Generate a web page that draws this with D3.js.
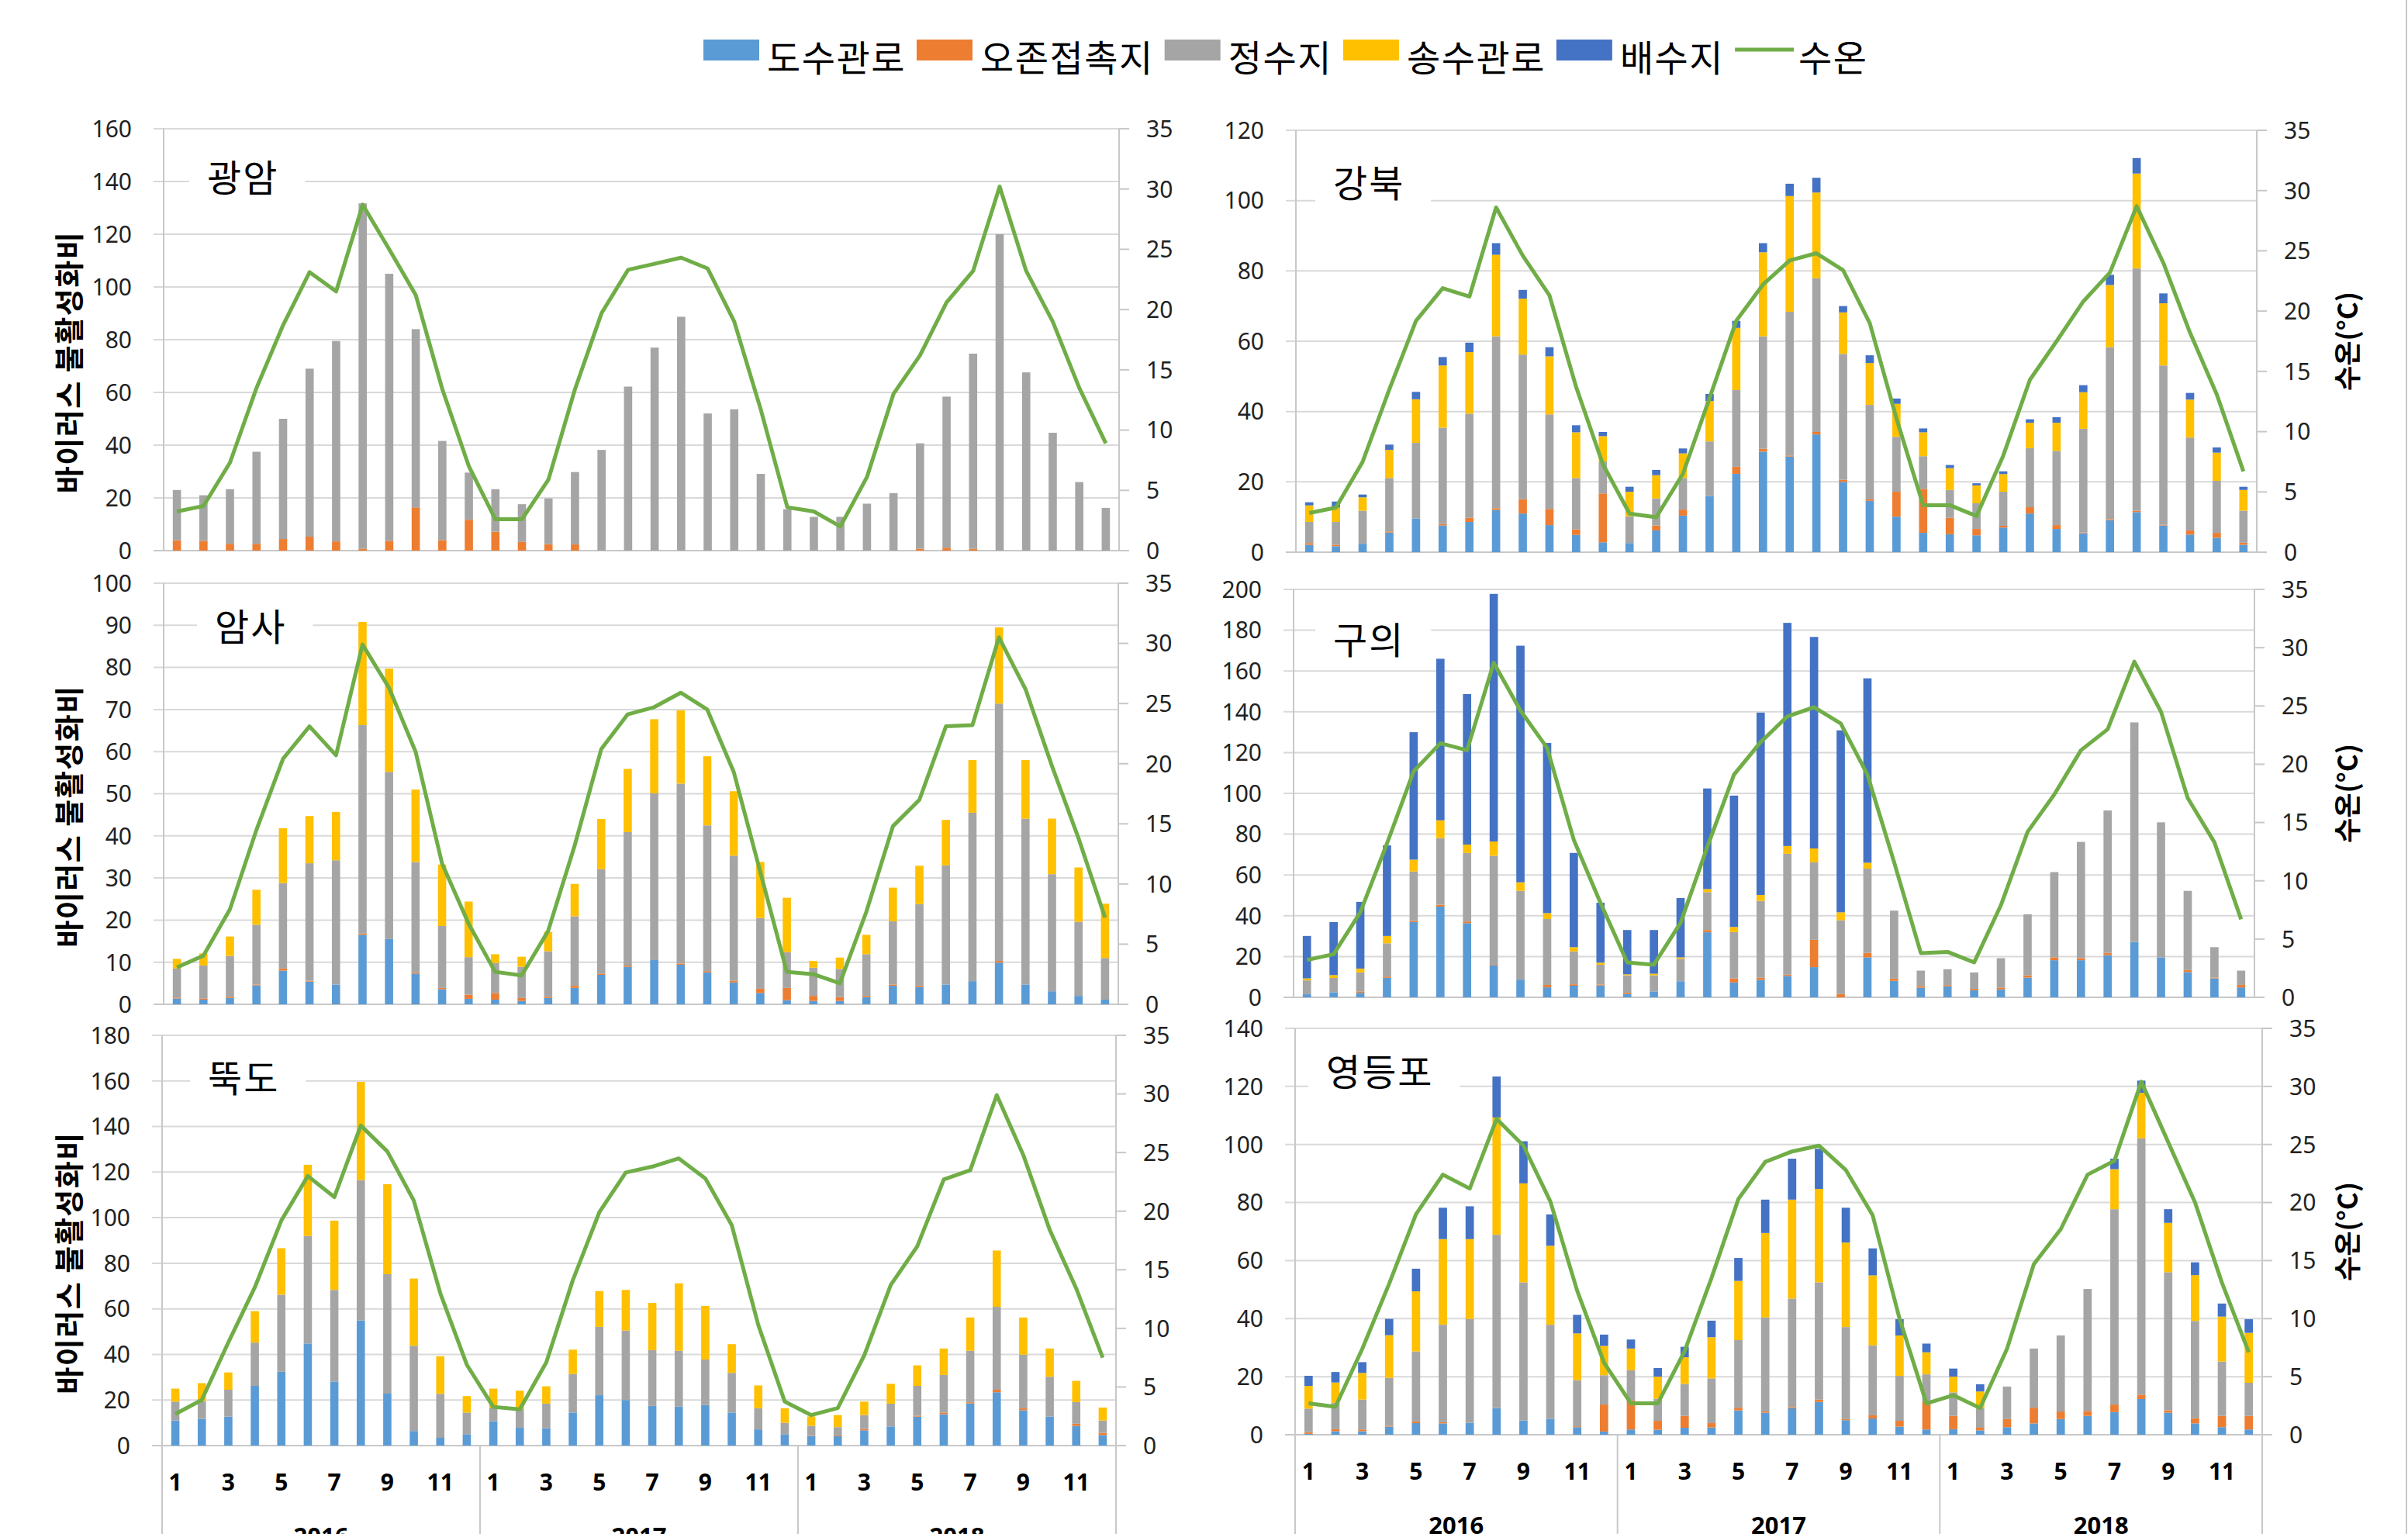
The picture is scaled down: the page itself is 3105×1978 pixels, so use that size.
<!DOCTYPE html>
<html>
<head>
<meta charset="utf-8">
<script src="https://cdnjs.cloudflare.com/ajax/libs/d3/7.8.5/d3.min.js"></script>
<style>
  body { margin: 0; background: #fff; }
  svg text { font-family: "Noto Sans", "Noto Sans CJK KR", sans-serif; fill: #222; }
  .kr { font-family: "Noto Sans CJK KR", sans-serif; }
</style>
</head>
<body>
<svg width="3105" height="1978"></svg>
<script>
// categories
const monthLabels = ["1","2","3","4","5","6","7","8","9","10","11","12"];
const yearLabels = ["2016","2017","2018"];
const seriesNames = ["도수관로","오존접촉지","정수지","송수관로","배수지"];
const tempName = "수온";

// 광암
const gwangamOzone = [3.9,3.7,2.6,2.6,4.4,5.3,3.5,0.7,3.7,16.4,4,11.7,7.2,3.3,2.5,2.4,0,0,0,0,0,0,0,0,0,0,0,0,0.7,1.1,0.7,0,0,0,0,0];
const gwangamJeongsu = [19.1,17.3,20.7,34.9,45.6,63.7,76,131,101.3,67.6,37.6,17.9,16.1,14.3,17.3,27.4,38.2,62.2,77,88.7,52,53.6,29.1,15.7,12.8,12.8,17.8,21.8,40,57.3,74,120,67.6,44.7,26,16.2];
const gwangamTemp = [3.25,3.7,7.3,13.5,18.7,23.1,21.5,28.7,25,21.2,13.4,7,2.6,2.6,5.9,13.4,19.7,23.3,23.8,24.3,23.4,19,11.7,3.6,3.25,2,6.1,13,16.2,20.6,23.2,30.2,23.2,19,13.5,8.9];

// 강북
const gangbukDosu = [2.1,1.7,2.4,5.6,9.6,7.6,8.6,12,11,7.7,4.9,2.8,2.6,6.2,10.4,16,22.3,28.6,27.2,33.5,20,14.6,10.1,5.5,5.1,4.8,7,11,6.6,5.4,9.1,11.4,7.6,5,4.1,2.1];
const gangbukOzone = [0.5,0.4,0,0.3,0,0.4,1.2,0.5,4.1,4.6,1.6,13.9,0,1.4,1.7,0,2,0.8,0.3,0.7,0.6,0.4,7.1,12.5,4.7,1.8,0.5,1.8,1.1,0.2,0.3,0.4,0.2,1.2,1.4,0.6];
const gangbukJeongsu = [6,6.5,9.4,15.2,21.5,27.4,29.6,48.9,41.1,26.9,14.6,9.1,7.6,7.7,9,15.5,21.8,32,40.9,43.7,35.8,26.9,15.6,9.3,7.9,7.3,9.7,16.8,21.1,29.5,48.9,68.9,45.3,26.4,14.8,9.1];
const gangbukSongsu = [4.7,4.1,3.8,8,12.4,17.7,17.5,23.2,15.9,16.5,13,7.2,7,6.6,7,11.5,17.7,23.9,32.9,24.4,11.8,11.9,9.4,6.8,6.2,5.1,5,7.2,8,10.4,17.7,27,17.7,10.8,8,5.9];
const gangbukBaesu = [0.9,1.7,0.8,1.5,2.1,2.4,2.7,3.3,2.5,2.6,2,1.2,1.4,1.5,1.4,2,2,2.6,3.5,4.2,1.8,2.2,1.5,1.1,0.9,0.6,0.8,1,1.6,2,2.9,4.4,2.8,1.9,1.5,0.9];
const gangbukTemp = [3.25,3.7,7.5,13.5,19.2,21.9,21.2,28.6,24.6,21.3,13.7,7.3,3.2,2.9,6.5,12.8,19.2,22.2,24.2,24.8,23.4,19,11.1,3.9,3.9,3,8,14.3,17.5,20.8,23.2,28.7,24,18.2,13.1,6.7];

// 암사
const amsaDosu = [1.4,1.1,1.5,4.5,8,5.4,4.7,16.5,15.5,7.3,3.6,1.3,1.1,0.8,1.5,3.9,7,8.9,10.5,9.4,7.6,5.2,2.7,1,0.8,0.8,1.7,4.4,4.1,4.7,5.5,9.9,4.7,3.1,2,1.1];
const amsaOzone = [0.2,0.3,0.3,0.2,0.5,0.2,0,0.3,0,0.3,0.3,1,1.6,0.7,0.3,0.5,0.3,0.3,0,0.3,0.3,0.4,1,2.9,1.2,0.9,0.3,0.3,0.3,0,0,0.4,0,0,0,0];
const amsaJeongsu = [6.9,7.8,9.7,14.2,20.3,27.9,29.5,49.5,39.7,26.2,14.7,8.9,7.1,7.4,10.8,16.5,24.8,31.7,39.6,42.7,34.6,29.7,16.8,8.5,6.7,6.7,9.9,15,19.4,28.3,40,61.1,39.4,27.8,17.6,9.9];
const amsaSongsu = [2.3,2.9,4.6,8.3,13,11.2,11.5,24.5,24.5,17.2,14.6,13.2,2.1,2.4,4.6,7.7,11.9,15,17.6,17.4,16.4,15.3,13.3,12.9,1.6,2.7,4.6,8,9.1,10.8,12.5,18.1,13.9,13.2,12.9,12.9];
const amsaTemp = [3.06,4.05,7.9,14.5,20.4,23.1,20.7,29.9,26.3,21,11.7,6.7,2.7,2.4,6.1,13.2,21.2,24.1,24.7,25.9,24.5,19.3,11,2.7,2.5,1.75,7.7,14.8,17,23.1,23.2,30.5,26.2,19.8,13.8,7.2];

// 구의
const guuiDosu = [1.5,2.5,2.2,9.6,36.9,44.5,36.4,15.6,8.7,4.9,5.7,5.8,1.7,2.9,7.9,31.9,7.3,8.6,10.5,14.8,0,19.6,8.1,4.7,5.4,3.5,3.9,9.7,18.2,18.2,20.7,27.2,19.5,12.4,9.3,4.9];
const guuiOzone = [0,0,0.7,0.6,0.6,0.9,0.8,0.3,0,1.2,0.7,0.5,0.6,0,0,1.1,2,1,0.6,13.4,1.6,2.2,1.1,0.8,0.6,0.7,0.9,1.1,1.4,1,1.1,0,0,1,0.4,1.2];
const guuiJeongsu = [6.8,7,9.3,16.3,24.2,32.7,33.6,53.5,43.5,32.3,16.1,9.7,8.5,7.9,11,18.6,22.7,37.7,59.3,38,36.2,41.3,33.3,7.6,7.8,8,14.4,29.9,41.8,57,69.8,107.6,66.3,38.8,14.9,7];
const guuiSongsu = [1,1.4,1.9,3.6,5.8,8.7,4.1,7,4.2,2.9,2.1,1,0.5,0.8,0.7,1.5,2.5,2.9,3.8,6.8,3.9,2.9,0,0,0,0,0,0,0,0,0,0,0,0,0,0];
const guuiBaesu = [20.8,26,32.7,44.4,62.5,79.2,73.8,121.4,116,83.4,46.2,29.4,21.7,21.4,29.1,49.3,64.4,89.4,109.4,103.7,89.2,90.4,0,0,0,0,0,0,0,0,0,0,0,0,0,0];
const guuiTemp = [3.2,3.7,7.3,13.2,19.4,21.8,21.2,28.7,24.6,21.4,13.5,8.1,3,2.8,6.4,12.9,19.1,21.9,24.1,24.9,23.5,19.1,11.6,3.8,3.9,3,7.9,14.2,17.4,21.2,23,28.8,24.5,17.1,13.3,6.7];

// 뚝도
const ttukdoDosu = [11,11.7,12.7,26.2,32.4,44.8,28.1,54.9,22.8,6.4,3.4,5,10.7,7.8,7.6,14.5,22.1,20,17.4,17.1,17.8,14.5,7.1,5,4.3,4.1,6.7,8.4,12.7,13.8,18.5,23.4,15.5,12.7,8.6,4.6];
const ttukdoOzone = [0,0,0,0,0,0,0,0,0,0,0,0,0,0,0,0,0,0,0,0,0,0,0,0,0.3,0.3,0.6,0,0.4,0.7,0.5,1.1,0.8,0,1,1];
const ttukdoJeongsu = [8.3,7.8,11.8,19,33.8,47.2,40.2,61.6,52.4,37.4,19.3,9.5,6,8.2,10.8,16.9,30,30.5,24.5,24.5,20,17.4,9.3,5,4.1,3.7,6.1,10,13.1,16.5,22.6,36.4,23.6,17.5,9.5,5.4];
const ttukdoSongsu = [5.7,7.9,7.6,13.8,20.4,31.2,30.4,43.1,39.5,29.5,16.5,7.2,8.3,8.1,7.6,10.7,15.7,17.8,20.7,29.6,23.5,12.6,10,6.4,4.1,5.3,5.9,8.7,9,11.6,14.6,24.7,16.3,12.4,9.3,5.7];
const ttukdoTemp = [2.7,3.9,8.8,13.5,19.2,23,21.2,27.3,25.1,20.9,13,6.9,3.3,3.1,7.1,14.1,19.9,23.3,23.8,24.5,22.8,18.8,10.3,3.75,2.6,3.2,7.7,13.7,17,22.7,23.5,29.9,24.8,18.4,13.4,7.5];

// 영등포
const ydpDosu = [0.3,1.2,1.2,2.8,4,3.9,4.1,9.2,4.9,5.5,2.6,1.1,1.8,1.7,2.4,2.5,8.4,7.6,9.1,11.3,5,5.6,2.8,1.8,1.9,1.5,2.6,3.9,5.4,6.5,7.8,12.3,7.6,3.9,2.6,1.8];
const ydpOzone = [0.6,0.7,0.6,0.3,0.6,0.4,0,0,0,0,0.3,9.3,10,3.1,4.1,1.5,0.9,0.4,0.4,0.8,0.4,1.1,2,9.7,4.6,0.9,2.8,5.4,2.6,1.7,2.6,1.5,0.8,1.8,3.9,4.7];
const ydpJeongsu = [8.1,9.1,10.3,16.5,24.1,33.6,35.8,59.7,47.6,32.4,15.9,10.1,10.4,7.6,11,15.4,23.3,32.4,37.4,40.4,31.7,24.1,15.5,9.3,8.1,6.9,11.2,20.4,26.2,42,67.3,88.3,47.6,33.5,18.7,11.4];
const ydpSongsu = [7.8,7,9.2,14.7,20.7,29.5,27.5,40.4,34.1,27.2,16.1,10.1,7.5,7.6,9.2,14.2,20.4,29.1,34.1,32.2,29.1,24.1,13.9,7.6,5.4,5.6,0,0,0,0,13.8,15.7,17,15.8,15.5,17.2];
const ydpBaesu = [3.5,3.6,3.7,5.6,7.8,10.8,11.3,14.1,14.5,10.8,6.4,3.9,3.1,3,3.6,5.7,7.9,11.5,14.1,13.8,12,9.3,5.6,3,2.8,2.5,0,0,0,0,3.6,4.2,4.7,4.4,4.5,4.7];
const ydpTemp = [2.7,2.4,7.4,13,19,22.4,21.2,27.2,24.9,20.1,12.4,6.2,2.7,2.7,7.2,13.5,20.3,23.5,24.4,24.9,22.8,18.9,10,2.7,3.4,2.3,7.4,14.7,17.7,22.4,23.6,30.4,25.2,20,13.1,7.1];

const seriesColors = ["#5B9BD5","#ED7D31","#A5A5A5","#FFC000","#4472C4"];
const tempColor = "#70AD47";
const gridColor = "#D9D9D9";
const axisColor = "#C8C8C8";

const panels = [
  {title:"광암", series:[null, gwangamOzone, gwangamJeongsu, null, null], temp:gwangamTemp, yMax:160, yStep:20,
   x0:211, x1:1443, yTop:166, yZero:710, tx:267, ty:247, left:true, bottom:false},
  {title:"강북", series:[gangbukDosu, gangbukOzone, gangbukJeongsu, gangbukSongsu, gangbukBaesu], temp:gangbukTemp, yMax:120, yStep:20,
   x0:1671, x1:2910, yTop:168, yZero:712, tx:1719, ty:254, left:false, bottom:false},
  {title:"암사", series:[amsaDosu, amsaOzone, amsaJeongsu, amsaSongsu, null], temp:amsaTemp, yMax:100, yStep:10,
   x0:211, x1:1442, yTop:752, yZero:1295, tx:277, ty:826, left:true, bottom:false},
  {title:"구의", series:[guuiDosu, guuiOzone, guuiJeongsu, guuiSongsu, guuiBaesu], temp:guuiTemp, yMax:200, yStep:20,
   x0:1668, x1:2907, yTop:760, yZero:1286, tx:1719, ty:843, left:false, bottom:false},
  {title:"뚝도", series:[ttukdoDosu, ttukdoOzone, ttukdoJeongsu, ttukdoSongsu, null], temp:ttukdoTemp, yMax:180, yStep:20,
   x0:209, x1:1439, yTop:1335, yZero:1864, tx:268, ty:1408, left:true, bottom:true},
  {title:"영등포", series:[ydpDosu, ydpOzone, ydpJeongsu, ydpSongsu, ydpBaesu], temp:ydpTemp, yMax:140, yStep:20,
   x0:1670, x1:2917, yTop:1326, yZero:1850, tx:1710, ty:1400, left:false, bottom:true}
];

const svg = d3.select("svg");
const keys = ["s0","s1","s2","s3","s4"];
const categories = d3.range(36);

panels.forEach(p => {
  const g = svg.append("g");
  const x = d3.scaleBand().domain(categories).range([p.x0, p.x1]).paddingInner(0.69).paddingOuter(0.345);
  const y = d3.scaleLinear().domain([0, p.yMax]).range([p.yZero, p.yTop]);
  const yr = d3.scaleLinear().domain([0, 35]).range([p.yZero, p.yTop]);
  const leftTicks = d3.range(0, p.yMax + 0.001, p.yStep);
  const rightTicks = d3.range(0, 35.001, 5);

  // grid + left ticks
  g.append("g").selectAll("line").data(leftTicks).join("line")
    .attr("x1", p.x0 - 13).attr("x2", p.x1)
    .attr("y1", d => y(d)).attr("y2", d => y(d))
    .attr("stroke", d => d === 0 ? axisColor : gridColor).attr("stroke-width", 2);

  // axis lines
  g.append("line").attr("x1", p.x0).attr("x2", p.x0)
    .attr("y1", p.yTop).attr("y2", p.bottom ? 1978 : p.yZero)
    .attr("stroke", axisColor).attr("stroke-width", 2);
  g.append("line").attr("x1", p.x1).attr("x2", p.x1)
    .attr("y1", p.yTop).attr("y2", p.bottom ? 1978 : p.yZero)
    .attr("stroke", axisColor).attr("stroke-width", 2);
  g.append("g").selectAll("line").data(rightTicks).join("line")
    .attr("x1", p.x1).attr("x2", p.x1 + 13)
    .attr("y1", d => yr(d)).attr("y2", d => yr(d))
    .attr("stroke", axisColor).attr("stroke-width", 2);

  // tick labels
  g.append("g").selectAll("text").data(leftTicks).join("text")
    .attr("x", p.x0 - 41).attr("y", d => y(d)).attr("dy", "0.36em")
    .attr("text-anchor", "end").style("font-size", "30px").text(d => d);
  g.append("g").selectAll("text").data(rightTicks).join("text")
    .attr("x", p.x1 + 35).attr("y", d => yr(d)).attr("dy", "0.36em")
    .attr("text-anchor", "start").style("font-size", "30px").text(d => d);

  // axis titles
  if (p.left) {
    g.append("text").attr("class", "kr")
      .attr("transform", "translate(90," + ((p.yTop + p.yZero) / 2 + 29) + ") rotate(-90)")
      .attr("text-anchor", "middle").attr("dy", "0.35em")
      .style("font-size", "38px").style("font-weight", "bold").style("letter-spacing", "1.5px").style("fill", "#000")
      .text("바이러스 불활성화비");
  } else {
    g.append("text").attr("class", "kr")
      .attr("transform", "translate(3028," + ((p.yTop + p.yZero) / 2) + ") rotate(-90)")
      .attr("text-anchor", "middle").attr("dy", "0.35em")
      .style("font-size", "35px").style("font-weight", "bold").style("fill", "#000")
      .text("수온(°C)");
  }

  // category axis for bottom panels
  if (p.bottom) {
    const step = x.step();
    g.append("g").selectAll("line").data([12, 24]).join("line")
      .attr("x1", d => p.x0 + d * step).attr("x2", d => p.x0 + d * step)
      .attr("y1", p.yZero).attr("y2", 1978)
      .attr("stroke", axisColor).attr("stroke-width", 2);
    g.append("g").selectAll("text").data(categories.filter(i => i % 2 === 0)).join("text")
      .attr("x", i => x(i) + x.bandwidth() / 2).attr("y", p.yZero + 58)
      .attr("text-anchor", "middle").style("font-size", "30px").style("font-weight", "bold").style("fill", "#000")
      .text(i => monthLabels[i % 12]);
    g.append("g").selectAll("text").data(yearLabels).join("text")
      .attr("x", (d, i) => p.x0 + (i * 12 + 6) * step).attr("y", p.yZero + 128)
      .attr("text-anchor", "middle").style("font-size", "31px").style("font-weight", "bold").style("fill", "#000")
      .text(d => d);
  }

  // panel title with white box
  const tbox = g.append("rect").attr("fill", "#fff");
  const tt = g.append("text").attr("class", "kr")
    .attr("x", p.tx).attr("y", p.ty)
    .style("font-size", "48px").style("letter-spacing", "2px").style("fill", "#000").text(p.title);
  const tw = tt.node().getComputedTextLength();
  tbox.attr("x", p.tx - 23).attr("y", p.ty - 56).attr("width", tw + 57).attr("height", 74);

  // stacked bars
  const table = categories.map(i => {
    const row = {};
    keys.forEach((k, j) => { row[k] = p.series[j] ? p.series[j][i] : 0; });
    return row;
  });
  const stacked = d3.stack().keys(keys)(table);
  g.append("g").selectAll("g").data(stacked).join("g")
    .attr("fill", (d, i) => seriesColors[i])
    .selectAll("rect").data(d => d).join("rect")
    .attr("x", (d, i) => x(i)).attr("width", x.bandwidth())
    .attr("y", d => y(d[1])).attr("height", d => Math.max(0, y(d[0]) - y(d[1])));

  // temperature line
  const line = d3.line().x((d, i) => x(i) + x.bandwidth() / 2).y(d => yr(d));
  g.append("path").datum(p.temp).attr("d", line)
    .attr("fill", "none").attr("stroke", tempColor).attr("stroke-width", 5)
    .attr("stroke-linejoin", "round");
});

// legend
const legend = svg.append("g");
let lx = 907;
seriesNames.concat([tempName]).forEach((name, i) => {
  if (i < 5) {
    legend.append("rect").attr("x", lx).attr("y", 51).attr("width", 72).attr("height", 27)
      .attr("fill", seriesColors[i]);
  } else {
    legend.append("line").attr("x1", lx).attr("x2", lx + 76).attr("y1", 64).attr("y2", 64)
      .attr("stroke", tempColor).attr("stroke-width", 5);
  }
  const t = legend.append("text").attr("class", "kr").attr("x", lx + 82).attr("y", 92)
    .style("font-size", "47px").style("letter-spacing", "1.5px").style("fill", "#000").text(name);
  lx += 82 + t.node().getComputedTextLength() + 14;
});

// outer border on the right
svg.append("line").attr("x1", 3103).attr("x2", 3103).attr("y1", 0).attr("y2", 1978)
  .attr("stroke", axisColor).attr("stroke-width", 2);
</script>
</body>
</html>
